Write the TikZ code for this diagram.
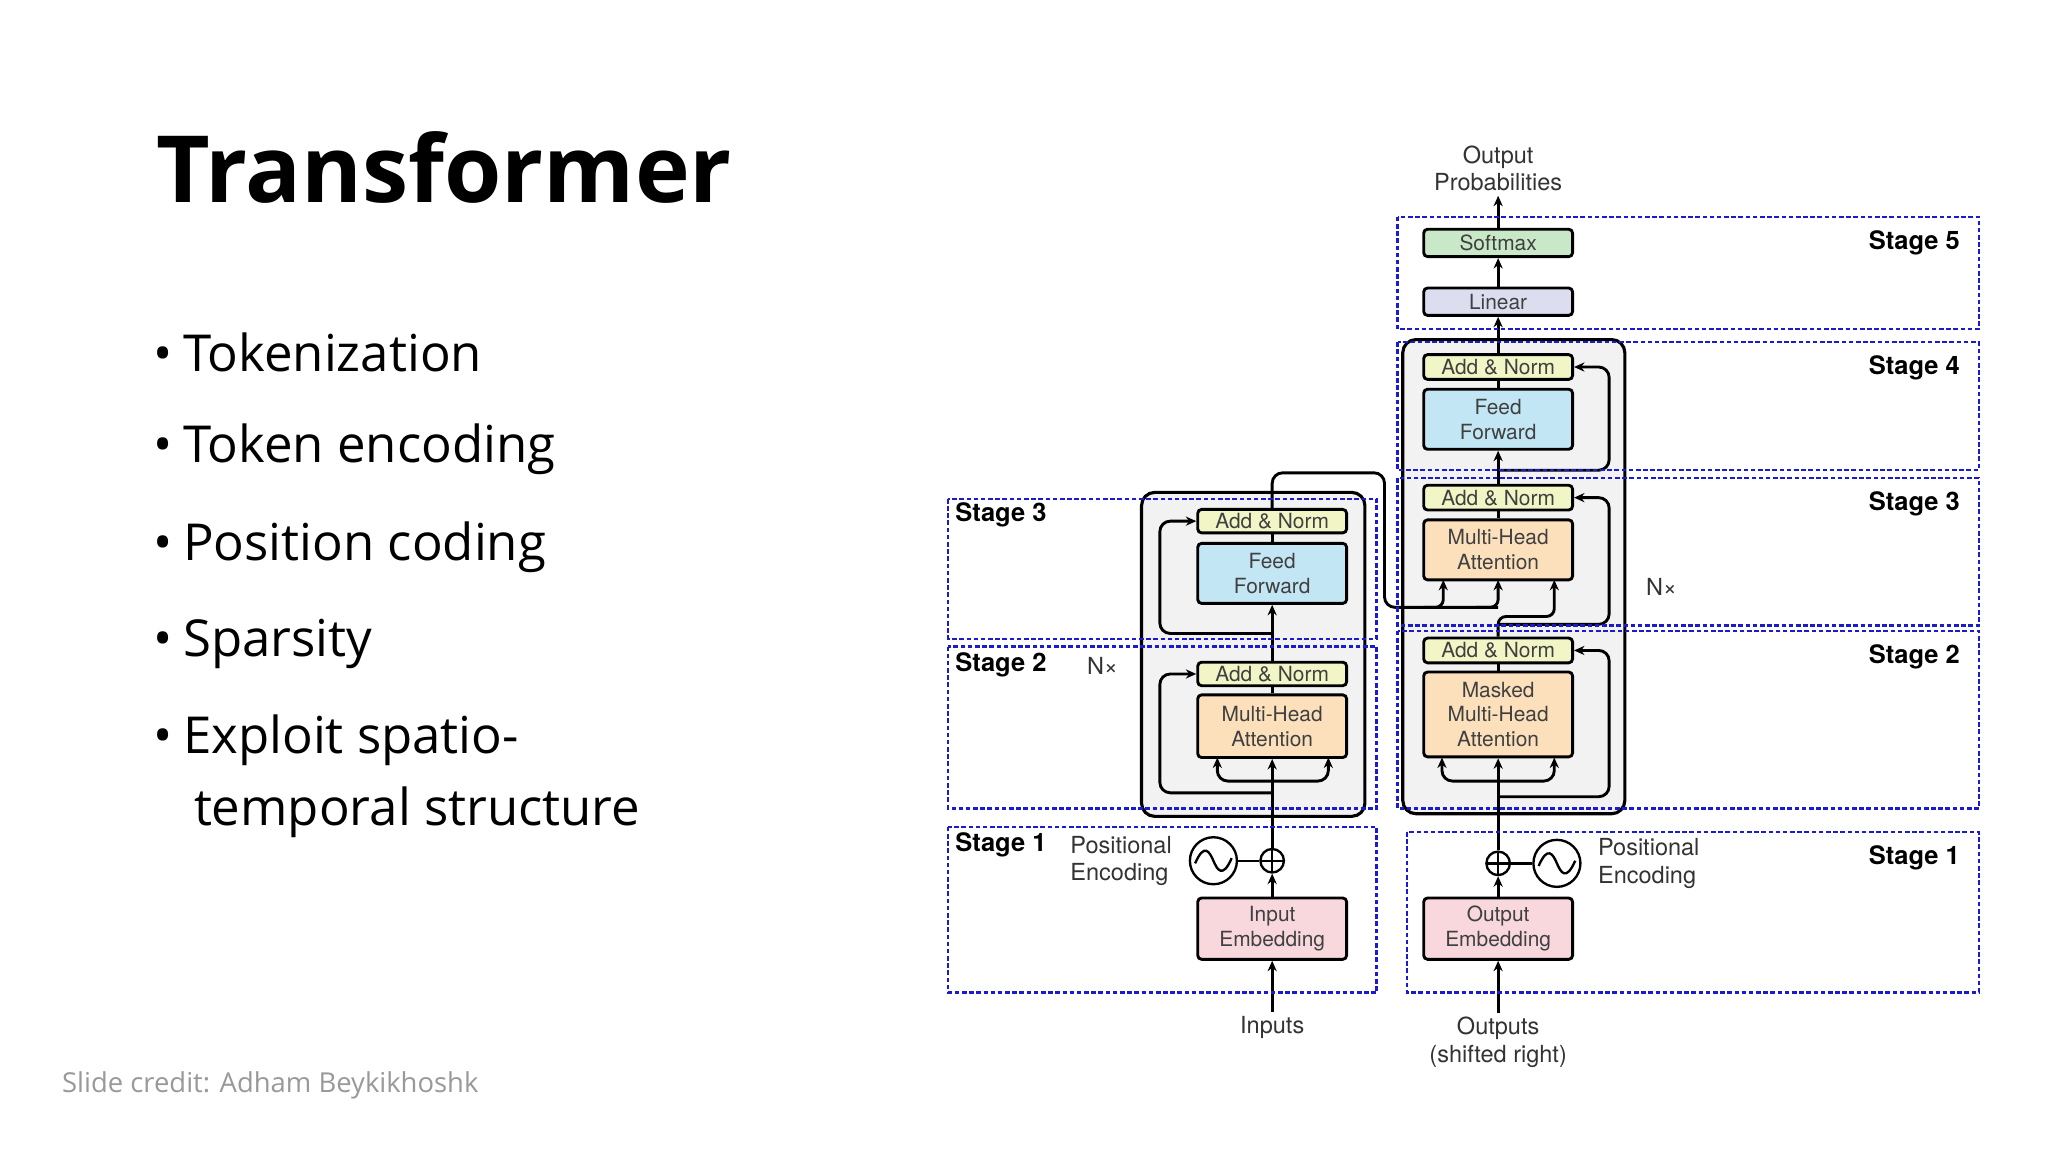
\documentclass[tikz,border=0pt]{standalone}
\usepackage{fontspec}
\setmainfont{Open Sans}
\newfontfamily\dg{TeX Gyre Heros}
\usetikzlibrary{arrows.meta}
\definecolor{cyel}{HTML}{F2F6C6}
\definecolor{cblu}{HTML}{C3E6F4}
\definecolor{cora}{HTML}{FCE0BC}
\definecolor{cpnk}{HTML}{F8D8DC}
\definecolor{cgrn}{HTML}{C9E8C8}
\definecolor{clav}{HTML}{DCDEEF}
\definecolor{cgry}{HTML}{F2F2F2}
\definecolor{cdash}{HTML}{1A1AD0}
\begin{document}
\begin{tikzpicture}[x=1pt,y=-1pt,
 blk/.style={draw=black,line width=2.2pt,rounded corners=3pt,minimum width=114pt,inner sep=0pt,font=\dg\fontsize{16}{19}\selectfont,text=black!75,align=center},
 grp/.style={draw=black,line width=2.4pt,rounded corners=10pt,fill=cgry},
 stg/.style={draw=cdash,line width=1.8pt,dash pattern=on 3.5pt off 2pt},
 slab/.style={font=\dg\bfseries\fontsize{19.5}{22}\selectfont,anchor=north west},
 lab/.style={font=\dg\fontsize{18}{21}\selectfont,align=center,text=black!80},
 ln/.style={line width=2.2pt},
 ar/.style={line width=2.2pt,-{Stealth[length=8pt,width=7pt]}},
 rc/.style={line width=2.2pt,rounded corners=8pt}]
\useasboundingbox (0,0) rectangle (1568,882);
\fill[white] (0,0) rectangle (1568,882);
% left text
\node[anchor=west,font=\bfseries\fontsize{71}{80}\selectfont] (title) at (116,128) {Transformer};
\foreach \t/\y [count=\i] in {Tokenization/270,Token encoding/344,Position coding/419,Sparsity/493,Exploit spatio-/567}
  \node[anchor=west,font=\fontsize{39}{48}\selectfont] (b\i) at (114,\y) {•\hspace{8pt}\t};
\node[anchor=west,font=\fontsize{39}{48}\selectfont] (b6) at (145,622) {temporal structure};
\node[anchor=west,font=\fontsize{21}{25}\selectfont,text=black!40] (credit) at (44,831) {Slide credit: Adham Beykikhoshk};
% groups
\draw[grp] (874,377) rectangle (1045,625);
\draw[grp] (1074,260) rectangle (1244,623);
% encoder blocks
\node[blk,fill=cyel,minimum height=18pt] (ean2) at (974,399) {Add \& Norm};
\node[blk,fill=cblu,minimum height=46pt] (eff) at (974,439) {Feed\\Forward};
\node[blk,fill=cyel,minimum height=18pt] (ean1) at (974,516) {Add \& Norm};
\node[blk,fill=cora,minimum height=48pt] (emha) at (974,556) {Multi-Head\\Attention};
\node[blk,fill=cpnk,minimum height=47pt] (iemb) at (974,711) {Input\\Embedding};
\node[circle,draw,line width=1.8pt,minimum size=18pt,inner sep=0pt] (eplus) at (974,659) {};
\draw[line width=1.8pt] (974,650)--(974,668) (965,659)--(983,659);
\node[circle,draw,line width=1.8pt,minimum size=36pt,inner sep=0pt] (epos) at (929,659) {};
\draw[line width=1.8pt] (915,661) .. controls (922,645) and (926,652) .. (929,659) .. controls (932,666) and (936,673) .. (943,657);
\node[lab,align=left,anchor=west] (eposl) at (816,659) {Positional\\Encoding};
\node[lab] (inp) at (974,787) {Inputs};
\node[lab] (enx) at (844,510) {N×};
% decoder blocks
\node[blk,fill=cgrn,minimum height=21pt] (soft) at (1147,186) {Softmax};
\node[blk,fill=clav,minimum height=21pt] (lin) at (1147,231) {Linear};
\node[blk,fill=cyel,minimum height=19pt] (dan3) at (1147,281) {Add \& Norm};
\node[blk,fill=cblu,minimum height=46pt] (dff) at (1147,321) {Feed\\Forward};
\node[blk,fill=cyel,minimum height=19pt] (dan2) at (1147,381) {Add \& Norm};
\node[blk,fill=cora,minimum height=46pt] (dmha) at (1147,421) {Multi-Head\\Attention};
\node[blk,fill=cyel,minimum height=19pt] (dan1) at (1147,498) {Add \& Norm};
\node[blk,fill=cora,minimum height=65pt] (dmm) at (1147,547) {Masked\\Multi-Head\\Attention};
\node[blk,fill=cpnk,minimum height=47pt] (oemb) at (1147,711) {Output\\Embedding};
\node[circle,draw,line width=1.8pt,minimum size=18pt,inner sep=0pt] (dplus) at (1147,661) {};
\draw[line width=1.8pt] (1147,652)--(1147,670) (1138,661)--(1156,661);
\node[circle,draw,line width=1.8pt,minimum size=36pt,inner sep=0pt] (dpos) at (1192,661) {};
\draw[line width=1.8pt] (1178,663) .. controls (1185,647) and (1189,654) .. (1192,661) .. controls (1195,668) and (1199,675) .. (1206,659);
\node[lab,align=left,anchor=west] (dposl) at (1220,661) {Positional\\Encoding};
\node[lab] (outp) at (1147,798) {Outputs\\(shifted right)};
\node[lab] (prob) at (1147,129) {Output\\Probabilities};
\node[lab] (dnx) at (1272,449) {N×};
% encoder flow
\draw[ar] (inp.north) -- (iemb.south);
\draw[ar] (iemb.north) -- (eplus.south);
\draw[line width=1.8pt] (epos.east) -- (eplus.west);
\draw[ar] (eplus.north) -- (emha.south);
\draw[ln] (emha.north) -- (ean1.south);
\draw[ar] (ean1.north) -- (eff.south);
\draw[ln] (eff.north) -- (ean2.south);
\draw[ar,rc] (974,598) -| (932,580);
\draw[ar,rc] (974,598) -| (1017,580);
\draw[ar,rc] (974,607) -| (888,516) -- (ean1.west);
\draw[ar,rc] (974,485) -| (888,399) -- (ean2.west);
% encoder to decoder
\draw[ln,rounded corners=8pt] (ean2.north) |- (1060,362) |- (1147,465);
\draw[ar,rounded corners=6pt] (1090,465) -| (1105,444);
\draw[ar,rounded corners=6pt] (1130,465) -| (1147,444);
% decoder flow
\draw[ar] (outp.north) -- (oemb.south);
\draw[ar] (oemb.north) -- (dplus.south);
\draw[line width=1.8pt] (dpos.west) -- (dplus.east);
\draw[ar] (dplus.north) -- (dmm.south);
\draw[ln] (dmm.north) -- (dan1.south);
\draw[ar,rounded corners=6pt] (dan1.north) |- (1175,472) -| (1190,444);
\draw[ln] (dmha.north) -- (dan2.south);
\draw[ar] (dan2.north) -- (dff.south);
\draw[ln] (dff.north) -- (dan3.south);
\draw[ar] (dan3.north) -- (lin.south);
\draw[ar] (lin.north) -- (soft.south);
\draw[ar] (soft.north) -- (prob.south);
\draw[ar,rc] (1147,598) -| (1104,580);
\draw[ar,rc] (1147,598) -| (1190,580);
\draw[ar,rc] (1147,610) -| (1232,498) -- (dan1.east);
\draw[ar,rc] (1147,478) -| (1232,381) -- (dan2.east);
\draw[ar,rc] (1147,360) -| (1232,281) -- (dan3.east);
% stage boxes
\draw[stg] (726,382) rectangle (1054,489);
\draw[stg] (726,495) rectangle (1054,619);
\draw[stg] (726,633) rectangle (1054,760);
\node[slab] (s3e) at (728,381) {Stage 3};
\node[slab] (s2e) at (728,496) {Stage 2};
\node[slab] (s1e) at (728,634) {Stage 1};
\draw[stg] (1070,166) rectangle (1515,252);
\draw[stg] (1070,262) rectangle (1515,360);
\draw[stg] (1070,366) rectangle (1515,479);
\draw[stg] (1070,483) rectangle (1515,619);
\draw[stg] (1077,637) rectangle (1515,760);
\node[slab,anchor=north east] (s5) at (1504,173) {Stage 5};
\node[slab,anchor=north east] (s4) at (1504,269) {Stage 4};
\node[slab,anchor=north east] (s3d) at (1504,373) {Stage 3};
\node[slab,anchor=north east] (s2d) at (1504,490) {Stage 2};
\node[slab,anchor=north east] (s1d) at (1504,644) {Stage 1};
\end{tikzpicture}
\end{document}
